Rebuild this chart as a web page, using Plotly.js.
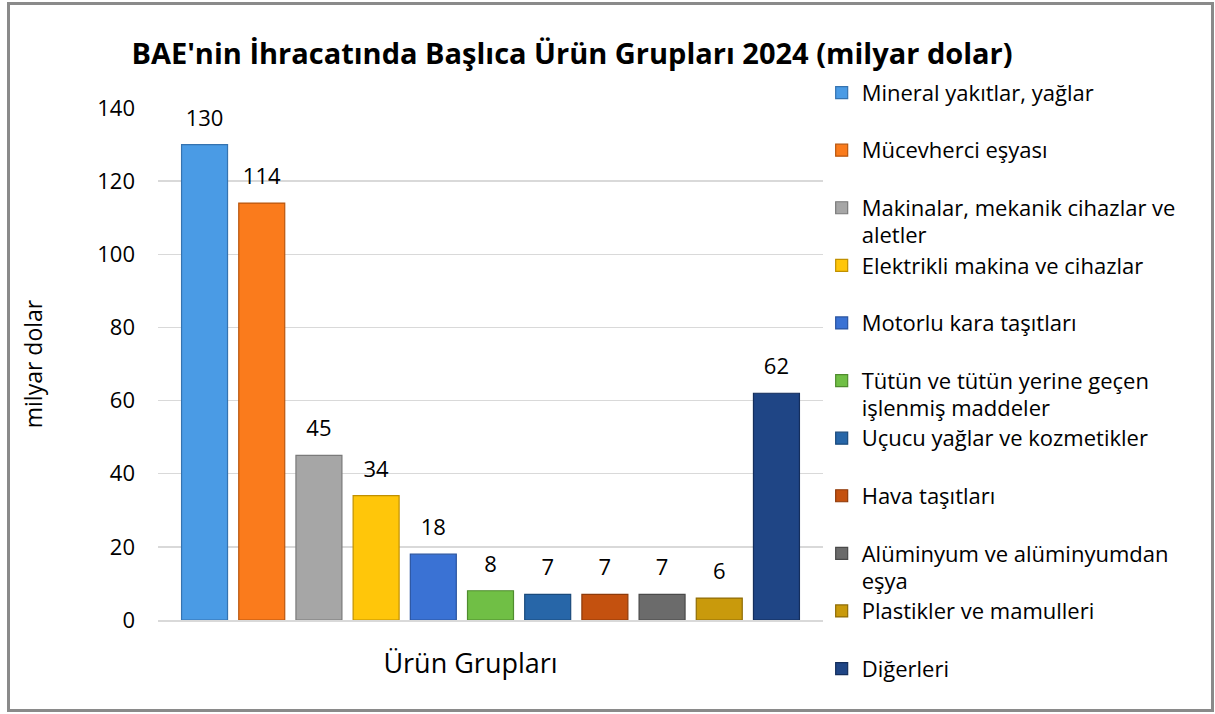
<!DOCTYPE html>
<html>
<head>
<meta charset="utf-8">
<script src="https://cdn.plot.ly/plotly-3.0.1.min.js"></script>
<style>
  html, body { margin: 0; padding: 0; background: #ffffff; }
  #wrap { position: relative; width: 1215px; height: 714px; }
  #chart { position: absolute; left: 0; top: 0; width: 1215px; height: 714px; }
  #frame { position: absolute; left: 7px; top: 2px; width: 1207px; height: 710px;
           box-sizing: border-box; border: 3px solid #8a8a8a; pointer-events: none; }
</style>
</head>
<body>
<div id="wrap">
  <div id="chart"></div>
  <div id="frame"></div>
</div>
<script>
// ---- data ----
const groupLabel = "Ürün Grupları";
const categories = [
  "Mineral yakıtlar, yağlar",
  "Mücevherci eşyası",
  "Makinalar, mekanik cihazlar ve aletler",
  "Elektrikli makina ve cihazlar",
  "Motorlu kara taşıtları",
  "Tütün ve tütün yerine geçen işlenmiş maddeler",
  "Uçucu yağlar ve kozmetikler",
  "Hava taşıtları",
  "Alüminyum ve alüminyumdan eşya",
  "Plastikler ve mamulleri",
  "Diğerleri"
];
const legendLabels = [
  "Mineral yakıtlar, yağlar<br> ",
  "Mücevherci eşyası<br> ",
  "Makinalar, mekanik cihazlar ve<br>aletler",
  "Elektrikli makina ve cihazlar<br> ",
  "Motorlu kara taşıtları<br> ",
  "Tütün ve tütün yerine geçen<br>işlenmiş maddeler",
  "Uçucu yağlar ve kozmetikler<br> ",
  "Hava taşıtları<br> ",
  "Alüminyum ve alüminyumdan<br>eşya",
  "Plastikler ve mamulleri<br> ",
  "Diğerleri<br> "
];
const values = [130, 114, 45, 34, 18, 8, 7, 7, 7, 6, 62];
const yTicks = [0, 20, 40, 60, 80, 100, 120, 140];
const chartTitle = "BAE'nin İhracatında Başlıca Ürün Grupları 2024 (milyar dolar)";
const yTitle = "milyar dolar";

// ---- style ----
const colors = ["#4A9BE5", "#FA7B1C", "#A6A6A6", "#FFC60A", "#3A72D4", "#70BF45",
                "#2766A8", "#C4510F", "#6B6B6B", "#C99A0C", "#1F4585"];
const edges  = ["#3573B0", "#B8560E", "#7A7A7A", "#C09000", "#2A54A0", "#4F8C2E",
                "#1A4A7C", "#8E3A0A", "#4A4A4A", "#8F6C06", "#142E5C"];
const FONT = "'Open Sans', 'Noto Sans', sans-serif";
const bargap = 0.054;

function legendText(s) {
  return s.split('<br>').map(p => '<span style="font-size:22px">' + p + '</span>').join('<br>');
}

const traces = [];
categories.forEach((c, i) => {
  traces.push({
    type: 'bar',
    name: legendText(legendLabels[i]),
    x: [groupLabel],
    y: [values[i]],
    marker: { color: colors[i], line: { color: edges[i], width: 1.2 } },
    hovertemplate: c + ': %{y}<extra></extra>'
  });
});
categories.forEach((c, i) => {
  traces.push({
    type: 'scatter',
    orientation: 'v',
    x: [groupLabel],
    y: [values[i]],
    mode: 'markers+text',
    text: [String(values[i])],
    textposition: 'top center',
    textfont: { family: FONT, size: 22, color: '#000000' },
    marker: { size: 20, opacity: 0 },
    showlegend: false,
    cliponaxis: false,
    hoverinfo: 'skip'
  });
});

const layout = {
  width: 1215, height: 714,
  paper_bgcolor: '#ffffff', plot_bgcolor: '#ffffff',
  font: { family: FONT, size: 21, color: '#000000' },
  margin: { l: 158, r: 392, t: 108, b: 94, autoexpand: false },
  barmode: 'group',
  bargap: bargap,
  bargroupgap: 0.196,
  scattermode: 'group',
  scattergap: bargap,
  title: {
    text: chartTitle,
    font: { family: FONT, size: 29, weight: 700, color: '#000000' },
    x: 0.4708, xanchor: 'center', xref: 'container',
    y: 0.925, yanchor: 'middle', yref: 'container'
  },
  xaxis: {
    type: 'category',
    showgrid: false,
    showline: true, linecolor: '#d9d9d9', linewidth: 1.5,
    ticks: '',
    tickfont: { family: FONT, size: 27, color: '#000000' },
    ticklabelstandoff: 19,
    ticklabelshift: -20,
    automargin: false,
    fixedrange: true
  },
  yaxis: {
    range: [0, 140],
    tickvals: yTicks,
    ticktext: yTicks.map(String),
    showgrid: true, gridcolor: '#d9d9d9', gridwidth: 1.5,
    zeroline: false,
    showline: false,
    ticks: '',
    tickfont: { family: FONT, size: 22, color: '#000000' },
    ticklabelstandoff: 22,
    title: { text: yTitle, font: { family: FONT, size: 23, color: '#000000' }, standoff: 48 },
    automargin: false,
    fixedrange: true
  },
  legend: {
    x: 0.998, xanchor: 'left',
    y: 1.0695, yanchor: 'top',
    valign: 'top',
    maxheight: 700,
    font: { family: FONT, size: 21, color: '#000000' },
    bgcolor: 'rgba(0,0,0,0)',
    itemclick: false, itemdoubleclick: false
  },
  showlegend: true
};

Plotly.newPlot('chart', traces, layout, { displayModeBar: false, staticPlot: true });
</script>
</body>
</html>
